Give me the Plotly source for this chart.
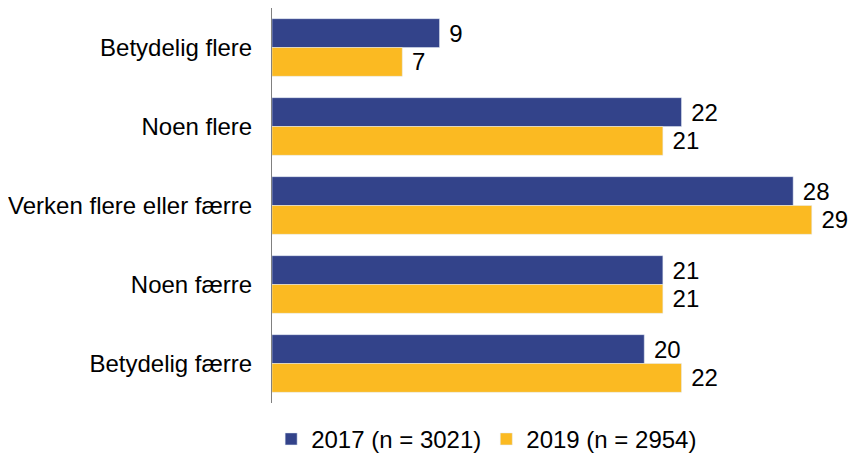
import plotly.graph_objects as go

categories = ["Betydelig flere", "Noen flere", "Verken flere eller færre", "Noen færre", "Betydelig færre"]
values_2017 = [9, 22, 28, 21, 20]
values_2019 = [7, 21, 29, 21, 22]
name_2017 = "2017 (n = 3021)"
name_2019 = "2019 (n = 2954)"

FONT = "Liberation Sans, Arial, sans-serif"

fig = go.Figure()
fig.add_trace(go.Bar(
    y=categories, x=values_2017, orientation="h", name=name_2017,
    marker=dict(color="#33438A"),
    texttemplate=" %{x}", textposition="outside",
    textfont=dict(size=24, color="black", family=FONT),
    cliponaxis=False,
))
fig.add_trace(go.Bar(
    y=categories, x=values_2019, orientation="h", name=name_2019,
    marker=dict(color="#FBBA22"),
    texttemplate=" %{x}", textposition="outside",
    textfont=dict(size=24, color="black", family=FONT),
    cliponaxis=False,
))

# page body has an 8px margin; figure runs a bit past the window bottom so the legend fits
fig.update_layout(
    width=849, height=464,
    margin=dict(l=264, r=8, t=0, b=69),
    barmode="group", bargap=0.27, bargroupgap=0,
    paper_bgcolor="white", plot_bgcolor="white",
    font=dict(family=FONT, size=24, color="black"),
    uniformtext=dict(minsize=24, mode="show"),
    showlegend=True,
    legend=dict(orientation="h", x=0.372, xanchor="center", y=-0.035, yanchor="top",
                font=dict(size=24), traceorder="normal"),
    xaxis=dict(range=[0, 31], visible=False),
    yaxis=dict(autorange="reversed", showline=True, linecolor="#808080", linewidth=1,
               showgrid=False, ticks="", ticklabelstandoff=14),
)

fig.write_html("out.html")
